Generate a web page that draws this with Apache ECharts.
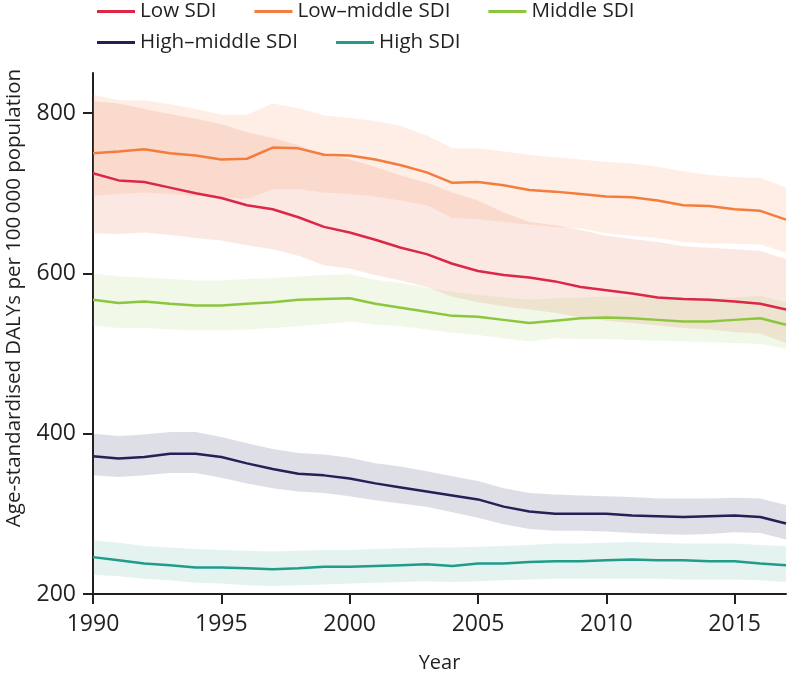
<!DOCTYPE html>
<html>
<head>
<meta charset="utf-8">
<script src="https://cdn.jsdelivr.net/npm/echarts@6/dist/echarts.min.js"></script>
<style>
html,body{margin:0;padding:0;background:#fff;}
#chart{width:788px;height:678px;}
</style>
</head>
<body>
<div id="chart"></div>
<script>
// ---- data ----
var years = [1990,1991,1992,1993,1994,1995,1996,1997,1998,1999,2000,2001,2002,2003,2004,2005,2006,2007,2008,2009,2010,2011,2012,2013,2014,2015,2016,2017];
var xTickLabels = ['1990','1995','2000','2005','2010','2015'];
var yTickValues = [200,400,600,800];

var lowSDI      = [725,716,714,707,700,694,685,680,670,658,651,642,632,624,612,603,598,595,590,583,579,575,570,568,567,565,562,555];
var lowSDIUpper = [815,812,805,799,793,786,776,769,760,748,742,733,722,713,701,691,676,664,660,654,647,643,639,634,632,630,628,618];
var lowSDILower = [650,649,651,648,644,641,635,630,622,610,606,598,591,583,571,564,559,555,551,545,541,538,535,532,530,527,525,513];

var lowMidSDI      = [750,752,755,750,747,742,743,757,756,748,747,742,735,726,713,714,710,704,702,699,696,695,691,685,684,680,678,667];
var lowMidSDIUpper = [823,816,816,811,805,798,798,812,806,797,794,790,784,772,756,756,752,748,745,742,739,737,733,727,723,720,719,707];
var lowMidSDILower = [697,699,701,699,697,695,693,705,705,701,699,696,691,685,669,668,664,661,658,656,650,647,644,639,637,637,636,626];

var midSDI      = [567,563,565,562,560,560,562,564,567,568,569,562,557,552,547,546,542,538,541,544,545,544,542,540,540,542,544,536];
var midSDIUpper = [600,596,595,593,591,591,593,594,596,598,599,592,588,582,577,573,570,567,569,570,571,571,571,570,569,570,572,564];
var midSDILower = [535,532,532,530,529,529,530,532,534,537,540,536,534,530,526,523,519,515,519,518,518,517,516,515,514,513,512,506];

var highMidSDI      = [372,369,371,375,375,371,363,356,350,348,344,338,333,328,323,318,309,303,300,300,300,298,297,296,297,298,296,288];
var highMidSDIUpper = [400,397,399,402,402,396,388,381,376,374,370,363,359,353,347,341,332,326,324,323,322,321,319,319,319,320,319,311];
var highMidSDILower = [348,346,348,351,351,345,338,332,328,326,322,317,313,309,302,295,287,281,279,279,278,276,275,274,275,277,276,268];

var highSDI      = [246,242,238,236,233,233,232,231,232,234,234,235,236,237,235,238,238,240,241,241,242,243,242,242,241,241,238,236];
var highSDIUpper = [267,264,260,258,256,255,254,253,254,255,255,256,257,258,258,259,260,261,263,263,264,265,264,263,263,263,261,260];
var highSDILower = [224,222,219,217,214,213,211,210,211,212,213,214,215,216,215,216,217,218,219,219,219,219,219,218,218,218,217,215];

var groups = [
  {name:'Low SDI',          mid:lowSDI,     up:lowSDIUpper,     lo:lowSDILower,     color:'#dc2846', band:'rgba(230,100,70,0.15)'},
  {name:'Low\u2013middle SDI', mid:lowMidSDI, up:lowMidSDIUpper, lo:lowMidSDILower, color:'#f47c3c', band:'rgba(244,123,58,0.13)'},
  {name:'Middle SDI',       mid:midSDI,     up:midSDIUpper,     lo:midSDILower,     color:'#8cc63f', band:'rgba(141,198,63,0.12)'},
  {name:'High\u2013middle SDI', mid:highMidSDI, up:highMidSDIUpper, lo:highMidSDILower, color:'#232157', band:'rgba(35,33,87,0.15)'},
  {name:'High SDI',         mid:highSDI,    up:highSDIUpper,    lo:highSDILower,    color:'#1f9c8a', band:'rgba(32,155,135,0.12)'}
];

var FONT = 'Open Sans';
var series = [];
groups.forEach(function(g, gi){
  series.push({
    name: g.name + ' lower', type:'line', stack:'band'+gi, data:g.lo,
    symbol:'none', lineStyle:{opacity:0}, silent:true, z:1
  });
  series.push({
    name: g.name + ' band', type:'line', stack:'band'+gi,
    data:g.up.map(function(v,i){return v - g.lo[i];}),
    symbol:'none', lineStyle:{opacity:0}, areaStyle:{color:g.band, opacity:1}, silent:true, z:1
  });
});
groups.forEach(function(g){
  series.push({
    name:g.name, type:'line', data:g.mid, symbol:'none',
    lineStyle:{color:g.color, width:2.5}, itemStyle:{color:g.color}, z:5
  });
});

var legendCommon = {
  icon:'rect', itemWidth:38, itemHeight:3, itemGap:38,
  textStyle:{fontFamily:FONT, fontSize:20.6, color:'#231f20'}
};

var chart = echarts.init(document.getElementById('chart'), null, {renderer:'canvas'});
chart.setOption({
  animation:false,
  backgroundColor:'#fff',
  legend:[
    Object.assign({left:92, top:-4, data:[groups[0].name, groups[1].name, groups[2].name]}, legendCommon),
    Object.assign({left:92, top:27, data:[groups[3].name, groups[4].name]}, legendCommon)
  ],
  grid:{left:93, right:2, top:73, bottom:74, containLabel:false},
  xAxis:{
    type:'category', data:years, boundaryGap:false,
    name:'Year', nameLocation:'middle', nameGap:59,
    nameTextStyle:{fontFamily:FONT, fontSize:20, color:'#231f20'},
    axisLine:{lineStyle:{color:'#231f20', width:2}},
    axisTick:{show:true, interval:4, length:10, lineStyle:{color:'#231f20', width:2}},
    axisLabel:{interval:4, margin:19, fontFamily:FONT, fontSize:23, color:'#231f20',
      formatter:function(v){ return xTickLabels.indexOf(String(v))>=0 ? String(v) : ''; }},
    splitLine:{show:false}
  },
  yAxis:{
    type:'value', min:200, max:850,
    axisLine:{show:true, lineStyle:{color:'#231f20', width:2}},
    axisTick:{show:true, length:10, customValues:yTickValues, lineStyle:{color:'#231f20', width:2}},
    axisLabel:{margin:17, fontFamily:FONT, fontSize:23, color:'#231f20', customValues:yTickValues},
    splitLine:{show:false}
  },
  graphic:[{
    type:'text', x:14, y:298, rotation:Math.PI/2,
    style:{text:'Age-standardised DALYs per 100\u2009000 population', fontFamily:FONT, fontSize:20.5,
      fill:'#231f20', textAlign:'center', textVerticalAlign:'middle'}
  }],
  series:series
});
</script>
</body>
</html>
